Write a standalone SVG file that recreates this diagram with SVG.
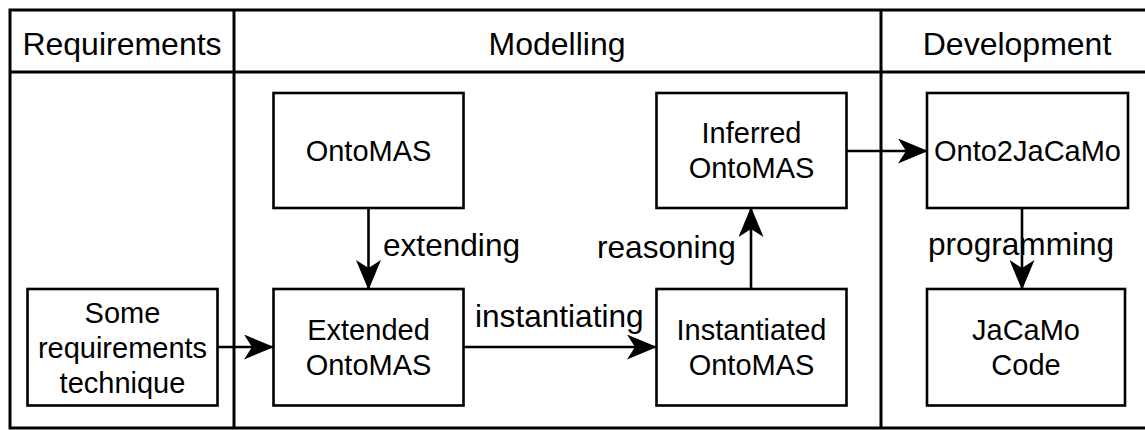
<svg xmlns="http://www.w3.org/2000/svg" width="1145" height="430" viewBox="0 0 1145 430">
<style>
.frame{fill:none;stroke:#000;stroke-width:3}
.box{fill:#fff;stroke:#000;stroke-width:2.6}
.edge{fill:none;stroke:#000;stroke-width:2.6}
.hdr{font-family:"Liberation Sans",Arial,sans-serif;font-size:32px;fill:#000;text-anchor:middle}
.txt{font-family:"Liberation Sans",Arial,sans-serif;font-size:29px;fill:#000;text-anchor:middle}
.lbl{font-family:"Liberation Sans",Arial,sans-serif;font-size:31.6px;fill:#000}
</style>
<defs>
<marker id="arr" viewBox="0 0 30 25" refX="29" refY="12.5" markerWidth="30" markerHeight="25" orient="auto" markerUnits="userSpaceOnUse">
<path d="M0,0 L30,12.5 L0,25 L8,12.5 Z" fill="#000"/>
</marker>
</defs>
<rect width="1145" height="430" fill="#fff"/>
<g id="lanes">
<path class="frame" d="M1150,10 H10 V428 H1150"/>
<line class="frame" x1="10" y1="72" x2="1150" y2="72"/>
<line class="frame" x1="234" y1="10" x2="234" y2="428"/>
<line class="frame" x1="881" y1="10" x2="881" y2="428"/>
<text class="hdr" x="122" y="55">Requirements</text>
<text class="hdr" x="557" y="55">Modelling</text>
<text class="hdr" x="1017" y="55">Development</text>
</g>
<g id="connectors">
<line class="edge" x1="217" y1="347" x2="273" y2="347" marker-end="url(#arr)"/>
<line class="edge" x1="368.5" y1="208" x2="368.5" y2="289" marker-end="url(#arr)"/>
<line class="edge" x1="463" y1="347" x2="656" y2="347" marker-end="url(#arr)"/>
<line class="edge" x1="751" y1="289" x2="751" y2="208" marker-end="url(#arr)"/>
<line class="edge" x1="847" y1="151" x2="927" y2="151" marker-end="url(#arr)"/>
<line class="edge" x1="1022" y1="208" x2="1022" y2="289" marker-end="url(#arr)"/>
<text class="lbl" x="383" y="256">extending</text>
<text class="lbl" x="475" y="327">instantiating</text>
<text class="lbl" x="597" y="258">reasoning</text>
<text class="lbl" x="928" y="255">programming</text>
</g>
<g id="req">
<rect class="box" x="27.5" y="289" width="190" height="116.5"/>
<text class="txt" x="122.5" y="322.5">Some</text>
<text class="txt" x="122.5" y="357.5">requirements</text>
<text class="txt" x="122.5" y="392.5">technique</text>
</g>
<g id="ontomas">
<rect class="box" x="273.5" y="93" width="190" height="115"/>
<text class="txt" x="368.5" y="160.5">OntoMAS</text>
</g>
<g id="extended">
<rect class="box" x="273.5" y="289" width="190" height="116.5"/>
<text class="txt" x="368.5" y="339.5">Extended</text>
<text class="txt" x="368.5" y="374.5">OntoMAS</text>
</g>
<g id="inferred">
<rect class="box" x="656.5" y="93" width="190" height="115"/>
<text class="txt" x="751.5" y="143">Inferred</text>
<text class="txt" x="751.5" y="178">OntoMAS</text>
</g>
<g id="instantiated">
<rect class="box" x="656.5" y="289" width="190" height="116.5"/>
<text class="txt" x="751.5" y="339.5">Instantiated</text>
<text class="txt" x="751.5" y="374.5">OntoMAS</text>
</g>
<g id="onto2jacamo">
<rect class="box" x="927" y="93" width="201" height="115"/>
<text class="txt" x="1027.5" y="160.5">Onto2JaCaMo</text>
</g>
<g id="jacamo">
<rect class="box" x="927" y="289" width="198" height="116.5"/>
<text class="txt" x="1026" y="339.5">JaCaMo</text>
<text class="txt" x="1026" y="374.5">Code</text>
</g>
</svg>
